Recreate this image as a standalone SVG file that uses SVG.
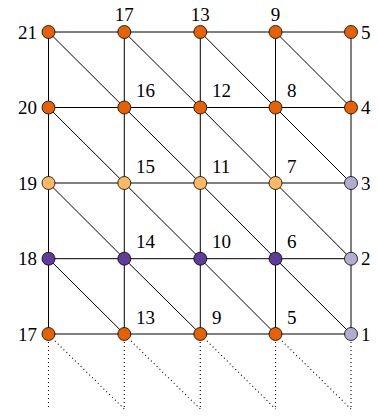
<svg xmlns="http://www.w3.org/2000/svg" width="378" height="416" viewBox="0 0 378 416">
<style>
.e{stroke:#000;stroke-width:1;fill:none}
.d{stroke:#000;stroke-width:1.1;fill:none;stroke-dasharray:1 3}
.n{stroke:#000;stroke-width:0.8}
.o{fill:#E66101}.lo{fill:#FDB863}.p{fill:#5E3C99}.lp{fill:#B2ABD2}
text{font-family:'Liberation Serif','Times New Roman',serif;font-size:19px;fill:#000}
.l{text-anchor:end}.c{text-anchor:middle}.s{text-anchor:start}
</style>
<g id="connectors">
<path class="e" d="M48.5,32H351M48.5,107.5H351M48.5,183H351M48.5,258.7H351M48.5,334H351"/>
<path class="e" d="M48.5,32V334M124.3,32V334M200.3,32V334M275.5,32V334M351,32V334"/>
<path class="e" d="M48.5,32L124.3,107.5M124.3,32L200.3,107.5M200.3,32L275.5,107.5M275.5,32L351,107.5"/>
<path class="e" d="M48.5,107.5L124.3,183M124.3,107.5L200.3,183M200.3,107.5L275.5,183M275.5,107.5L351,183"/>
<path class="e" d="M48.5,183L124.3,258.7M124.3,183L200.3,258.7M200.3,183L275.5,258.7M275.5,183L351,258.7"/>
<path class="e" d="M48.5,258.7L124.3,334M124.3,258.7L200.3,334M200.3,258.7L275.5,334M275.5,258.7L351,334"/>
<path class="d" d="M48.5,342V409M124.3,342V409M200.3,342V409M275.5,342V409M351,342V409"/>
<path class="d" d="M55,341L124.3,409M131,341L200.3,409M207,341L275.5,409M282,341L351,409"/>
</g>
<g id="n21"><circle class="n o" cx="48.5" cy="32" r="6.5"/><text class="l" x="37" y="38.5">21</text></g>
<g id="n17t"><circle class="n o" cx="124.3" cy="32" r="6.5"/><text class="c" x="124.3" y="21">17</text></g>
<g id="n13t"><circle class="n o" cx="200.3" cy="32" r="6.5"/><text class="c" x="200.3" y="21">13</text></g>
<g id="n9t"><circle class="n o" cx="275.5" cy="32" r="6.5"/><text class="c" x="275.5" y="21">9</text></g>
<g id="n5t"><circle class="n o" cx="351" cy="32" r="6.5"/><text class="s" x="361" y="38.5">5</text></g>
<g id="n20"><circle class="n o" cx="48.5" cy="107.5" r="6.5"/><text class="l" x="37" y="114">20</text></g>
<g id="n16"><circle class="n o" cx="124.3" cy="107.5" r="6.5"/><text class="s" x="136" y="97">16</text></g>
<g id="n12"><circle class="n o" cx="200.3" cy="107.5" r="6.5"/><text class="s" x="212" y="97">12</text></g>
<g id="n8"><circle class="n o" cx="275.5" cy="107.5" r="6.5"/><text class="s" x="287" y="97">8</text></g>
<g id="n4"><circle class="n o" cx="351" cy="107.5" r="6.5"/><text class="s" x="361" y="114">4</text></g>
<g id="n19"><circle class="n lo" cx="48.5" cy="183" r="6.5"/><text class="l" x="37" y="189.5">19</text></g>
<g id="n15"><circle class="n lo" cx="124.3" cy="183" r="6.5"/><text class="s" x="136" y="172.5">15</text></g>
<g id="n11"><circle class="n lo" cx="200.3" cy="183" r="6.5"/><text class="s" x="212" y="172.5">11</text></g>
<g id="n7"><circle class="n lo" cx="275.5" cy="183" r="6.5"/><text class="s" x="287" y="172.5">7</text></g>
<g id="n3"><circle class="n lp" cx="351" cy="183" r="6.5"/><text class="s" x="361" y="189.5">3</text></g>
<g id="n18"><circle class="n p" cx="48.5" cy="258.7" r="6.5"/><text class="l" x="37" y="265.2">18</text></g>
<g id="n14"><circle class="n p" cx="124.3" cy="258.7" r="6.5"/><text class="s" x="136" y="248.2">14</text></g>
<g id="n10"><circle class="n p" cx="200.3" cy="258.7" r="6.5"/><text class="s" x="212" y="248.2">10</text></g>
<g id="n6"><circle class="n p" cx="275.5" cy="258.7" r="6.5"/><text class="s" x="287" y="248.2">6</text></g>
<g id="n2"><circle class="n lp" cx="351" cy="258.7" r="6.5"/><text class="s" x="361" y="265.2">2</text></g>
<g id="n17b"><circle class="n o" cx="48.5" cy="334" r="6.5"/><text class="l" x="37" y="340.5">17</text></g>
<g id="n13b"><circle class="n o" cx="124.3" cy="334" r="6.5"/><text class="s" x="136" y="324">13</text></g>
<g id="n9b"><circle class="n o" cx="200.3" cy="334" r="6.5"/><text class="s" x="212" y="324">9</text></g>
<g id="n5b"><circle class="n o" cx="275.5" cy="334" r="6.5"/><text class="s" x="287" y="324">5</text></g>
<g id="n1"><circle class="n lp" cx="351" cy="334" r="6.5"/><text class="s" x="361" y="340.5">1</text></g>
</svg>
